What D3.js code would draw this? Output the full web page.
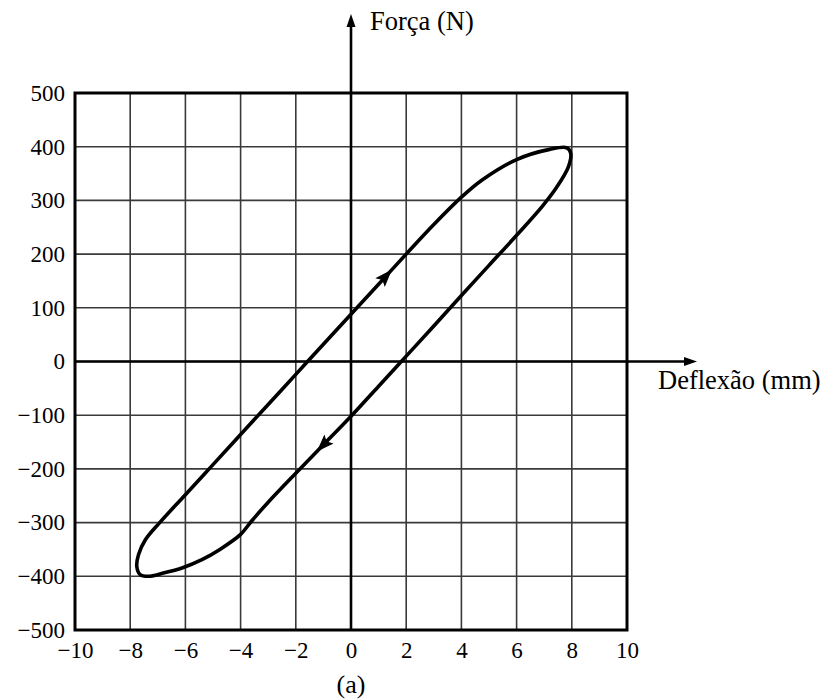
<!DOCTYPE html>
<html>
<head>
<meta charset="utf-8">
<script src="https://cdn.jsdelivr.net/npm/d3@7"></script>
<style>
  html, body { margin: 0; padding: 0; background: #fff; }
  svg { display: block; }
</style>
</head>
<body>
<svg id="chart" width="824" height="699"></svg>
<script>
// ---- data ----
const xTicks = [-10, -8, -6, -4, -2, 0, 2, 4, 6, 8, 10];
const yTicks = [-500, -400, -300, -200, -100, 0, 100, 200, 300, 400, 500];
const xLabel = "Deflexão (mm)";
const yLabel = "Força (N)";
const caption = "(a)";

// hysteresis loop (deflection mm, force N), traced around the closed loop
const loopX = [-7.35, -7.64, -7.76, -7.7, -7.45, -6.93, -6, -5, -4, -3, -2, -1, 0, 1, 2, 3, 4, 4.75, 6.0, 7.2, 7.82, 7.96, 7.88, 7.42, 6.93, 6, 5, 4, 3, 2, 1, 0, -1, -2, -3, -3.6, -4.0, -4.75, -5.4, -6.1, -6.8];
const loopY = [-400, -397, -382, -360, -332, -300, -248, -192, -136, -80, -24, 32, 88, 144, 200, 255, 306, 338, 376, 395, 398, 388, 363, 322, 289, 235, 179, 123, 66, 10, -46, -102, -155, -208, -262, -297, -322, -350, -369, -384, -394];

// direction arrows on the loop: position and the branch segment giving direction
const arrowX = [1.25, -1.0];
const arrowY = [158, -155];
const arrowFromX = [0, 0];
const arrowFromY = [88, -102];
const arrowToX = [2, -2];
const arrowToY = [200, -208];

// ---- layout ----
const svg = d3.select("#chart");
const pL = 75, pR = 627, pT = 93, pB = 630;
const x = d3.scaleLinear().domain([-10, 10]).range([pL, pR]);
const y = d3.scaleLinear().domain([-500, 500]).range([pB, pT]);
const font = "'Liberation Serif', 'Times New Roman', serif";

// grid
const grid = svg.append("g");
grid.selectAll("line.vx").data(xTicks.slice(1, -1)).join("line")
  .attr("x1", d => x(d)).attr("x2", d => x(d))
  .attr("y1", pT).attr("y2", pB)
  .attr("stroke", "#3a3a3a").attr("stroke-width", 1.6);
grid.selectAll("line.hy").data(yTicks.slice(1, -1)).join("line")
  .attr("x1", pL).attr("x2", pR)
  .attr("y1", d => y(d)).attr("y2", d => y(d))
  .attr("stroke", "#3a3a3a").attr("stroke-width", 1.6);

// frame
svg.append("rect")
  .attr("x", pL).attr("y", pT)
  .attr("width", pR - pL).attr("height", pB - pT)
  .attr("fill", "none").attr("stroke", "#000").attr("stroke-width", 3);

// axes with tick labels
const fmt = d => d < 0 ? "\u2212" + Math.abs(d) : String(d);
const axX = svg.append("g").attr("transform", `translate(0,${pB})`)
  .call(d3.axisBottom(x).tickValues(xTicks).tickSize(0).tickPadding(12).tickFormat(fmt));
axX.select(".domain").remove();
axX.selectAll("text").attr("font-family", font).attr("font-size", 23).attr("fill", "#000");

const axY = svg.append("g").attr("transform", `translate(${pL},0)`)
  .call(d3.axisLeft(y).tickValues(yTicks).tickSize(0).tickPadding(10).tickFormat(fmt));
axY.select(".domain").remove();
axY.selectAll("text").attr("font-family", font).attr("font-size", 23).attr("fill", "#000");

// coordinate axes through origin with arrowheads
const x0 = x(0), y0 = y(0);
const xAxisEnd = 697, yAxisEnd = 14;
svg.append("line").attr("x1", pL).attr("x2", xAxisEnd - 8)
  .attr("y1", y0).attr("y2", y0).attr("stroke", "#000").attr("stroke-width", 2.6);
svg.append("path")
  .attr("d", `M${xAxisEnd},${y0} L${xAxisEnd - 13},${y0 - 4.5} L${xAxisEnd - 13},${y0 + 4.5} Z`)
  .attr("fill", "#000");
svg.append("line").attr("x1", x0).attr("x2", x0)
  .attr("y1", pB).attr("y2", yAxisEnd + 8).attr("stroke", "#000").attr("stroke-width", 2.6);
svg.append("path")
  .attr("d", `M${x0},${yAxisEnd} L${x0 - 4.5},${yAxisEnd + 13} L${x0 + 4.5},${yAxisEnd + 13} Z`)
  .attr("fill", "#000");

// loop curve
const pts = loopX.map((d, i) => [x(d), y(loopY[i])]);
svg.append("path")
  .attr("d", d3.line().curve(d3.curveCatmullRomClosed.alpha(0.5))(pts))
  .attr("fill", "none").attr("stroke", "#000").attr("stroke-width", 3.6)
  .attr("stroke-linejoin", "round");

// direction arrows
arrowX.forEach((ax, i) => {
  const px = x(ax), py = y(arrowY[i]);
  const dx = x(arrowToX[i]) - x(arrowFromX[i]);
  const dy = y(arrowToY[i]) - y(arrowFromY[i]);
  const ang = Math.atan2(dy, dx) * 180 / Math.PI;
  svg.append("path")
    .attr("d", "M8,0 L-7,-5.5 L-4,0 L-7,5.5 Z")
    .attr("transform", `translate(${px},${py}) rotate(${ang})`)
    .attr("fill", "#000").attr("stroke", "#000").attr("stroke-width", 1);
});

// labels
svg.append("text").attr("x", 370).attr("y", 30)
  .attr("font-family", font).attr("font-size", 26.5).attr("fill", "#000")
  .text(yLabel);
svg.append("text").attr("x", 658).attr("y", 389)
  .attr("font-family", font).attr("font-size", 26.5).attr("fill", "#000")
  .text(xLabel);
svg.append("text").attr("x", x0).attr("y", 693).attr("text-anchor", "middle")
  .attr("font-family", font).attr("font-size", 26).attr("fill", "#000")
  .text(caption);
</script>
</body>
</html>
